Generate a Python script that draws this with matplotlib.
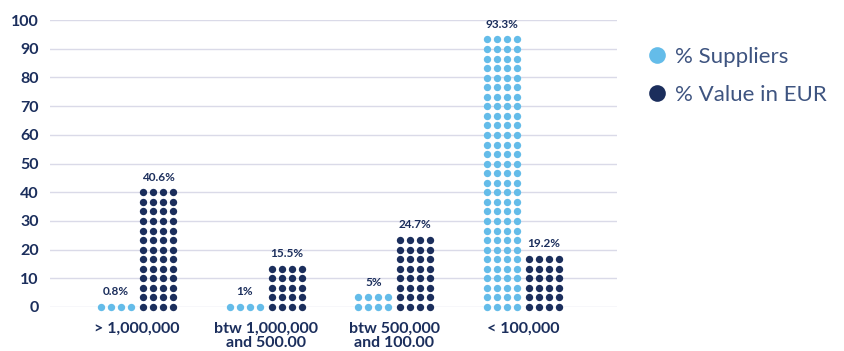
import numpy as np
import matplotlib.pyplot as plt
from matplotlib.lines import Line2D

plt.rcParams['font.family'] = ['Lato', 'DejaVu Sans']

# data
categories = ['> 1,000,000', 'btw 1,000,000\nand 500.00', 'btw 500,000\nand 100.00', '< 100,000']
suppliers = [0.8, 1, 5, 93.3]
value_eur = [40.6, 15.5, 24.7, 19.2]
series_names = ['% Suppliers', '% Value in EUR']

light = '#64BCE9'
navy = '#1B2E5C'
grid_c = '#DADAE8'

step = 3.33        # one row of dots per 3.33 %
ncols = 4          # dots per row
col_w = 0.078      # spacing between dot columns
offset = 0.163     # half distance between the two dot groups

fig = plt.figure(figsize=(8.45, 3.51), dpi=100)
ax = fig.add_axes([50 / 845, 44 / 351, 567 / 845, 287 / 351])

x = np.arange(len(categories))

for vals, sign, col in [(suppliers, -1, light), (value_eur, 1, navy)]:
    for xi, v in zip(x, vals):
        nrows = int(v // step) + 1
        cx = xi + sign * offset
        xs = cx + (np.arange(ncols) - (ncols - 1) / 2) * col_w
        ys = np.arange(nrows) * step
        X, Y = np.meshgrid(xs, ys)
        ax.scatter(X.ravel(), Y.ravel(), s=28, color=col, linewidths=0, clip_on=False, zorder=3)
        ax.annotate(f'{v:g}%', (cx, ys[-1]), xytext=(0, 11), textcoords='offset points',
                    ha='center', va='center', fontsize=8.5, fontweight='bold', color=navy)

ax.set_xlim(-0.676, 3.73)
ax.set_ylim(0, 100)
ax.set_yticks(np.arange(0, 101, 10))
ax.grid(axis='y', color=grid_c, linewidth=1)
ax.set_axisbelow(True)
for s in ax.spines.values():
    s.set_visible(False)
ax.tick_params(length=0)
ax.tick_params(axis='y', pad=8, labelsize=11.5, labelcolor=navy)
ax.set_xticks(x)
ax.set_xticklabels(categories, fontsize=11.5, fontweight='bold', color=navy, linespacing=0.95)
ax.tick_params(axis='x', pad=11)
for t in ax.get_yticklabels():
    t.set_fontweight('bold')

handles = [Line2D([], [], marker='o', linestyle='none', markersize=12, color=c, markeredgewidth=0)
           for c in [light, navy]]
fig.legend(handles, series_names, loc='upper left', bbox_to_anchor=(633 / 845, 1 - 36 / 351),
           frameon=False, handletextpad=0.2, labelspacing=0.8, labelcolor='#3E5480',
           prop={'weight': 'normal', 'size': 16}, handlelength=1.2, borderpad=0)

fig.savefig('out.png', dpi=100)
